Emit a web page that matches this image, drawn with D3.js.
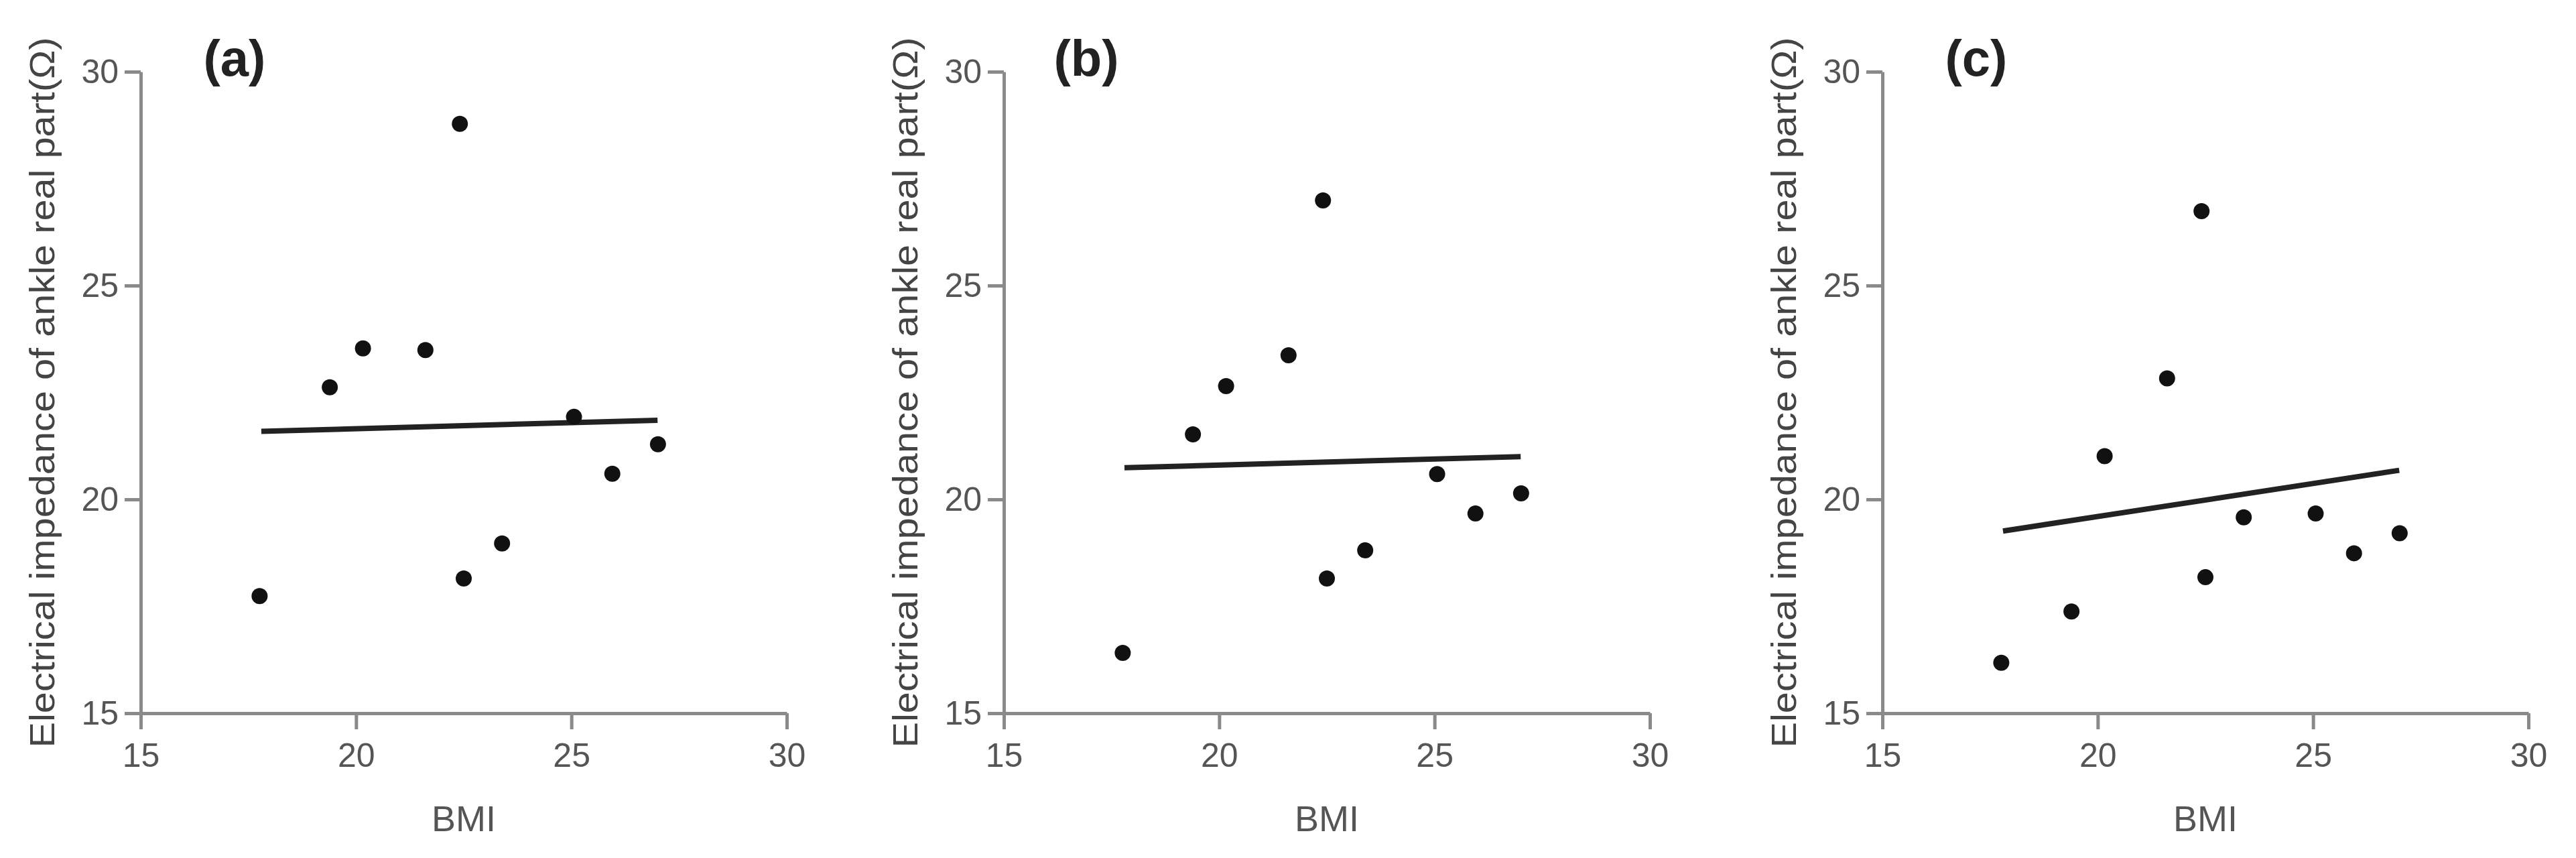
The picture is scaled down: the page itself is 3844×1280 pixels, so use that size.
<!DOCTYPE html>
<html>
<head>
<meta charset="utf-8">
<script src="https://cdn.jsdelivr.net/npm/d3@7"></script>
<style>
  html, body { margin: 0; padding: 0; background: #fff; }
  svg { display: block; }
</style>
</head>
<body>
<script>
// values
const bmi = [17.76, 19.39, 20.16, 21.61, 22.41, 22.50, 23.39, 25.06, 25.95, 27.01]
const impedanceA = [17.74, 22.62, 23.53, 23.49, 28.78, 18.15, 18.97, 21.93, 20.60, 21.29]
const impedanceB = [16.41, 21.52, 22.65, 23.37, 26.99, 18.15, 18.81, 20.59, 19.67, 20.14]
const impedanceC = [16.18, 17.38, 21.01, 22.83, 26.74, 18.18, 19.58, 19.67, 18.74, 19.21]
// fitted line, value at the first and last BMI
const fitX = [17.8, 27.0]
const fitA = [21.59, 21.85]
const fitB = [20.74, 21.00]
const fitC = [19.26, 20.68]
const panelLabels = ['(a)', '(b)', '(c)']
const ticks = [15, 20, 25, 30]
const xTitle = 'BMI'
const yTitle = 'Electrical impedance of ankle real part(\u03a9)'

const W = 3844, H = 1280
const font = "'Liberation Sans', Arial, sans-serif"

const svg = d3.select('body').append('svg')
    .attr('width', W)
    .attr('height', H)

const panels = [
    {label: panelLabels[0], y: impedanceA, fit: fitA, x0: 210, labelDx: 140},
    {label: panelLabels[1], y: impedanceB, fit: fitB, x0: 1498, labelDx: 123},
    {label: panelLabels[2], y: impedanceC, fit: fitC, x0: 2809, labelDx: 140}
]

const plotW = 964, plotTop = 107, plotBottom = 1064

panels.forEach(function(p){
    const g = svg.append('g').attr('transform', `translate(${p.x0},0)`)

    const x = d3.scaleLinear().domain([15, 30]).range([0, plotW])
    const y = d3.scaleLinear().domain([15, 30]).range([plotBottom, plotTop])

    const xAxis = g.append('g')
        .attr('transform', `translate(0,${plotBottom})`)
        .call(d3.axisBottom(x).tickValues(ticks).tickSize(24).tickSizeOuter(0).tickPadding(20))
    const yAxis = g.append('g')
        .call(d3.axisLeft(y).tickValues(ticks).tickSize(24).tickSizeOuter(0).tickPadding(9))

    ;[xAxis, yAxis].forEach(function(a){
        a.select('.domain').attr('stroke', '#8a8a8a').attr('stroke-width', 5)
        a.selectAll('.tick line').attr('stroke', '#8a8a8a').attr('stroke-width', 5)
        a.selectAll('.tick text')
            .attr('fill', '#555')
            .style('font-family', font)
            .style('font-size', '50px')
    })

    // regression line
    g.append('line')
        .attr('x1', x(fitX[0]))
        .attr('y1', y(p.fit[0]))
        .attr('x2', x(fitX[1]))
        .attr('y2', y(p.fit[1]))
        .attr('stroke', '#222')
        .attr('stroke-width', 8)

    g.selectAll('circle')
        .data(bmi.map((b, i) => ({b: b, v: p.y[i]})))
        .enter()
        .append('circle')
        .attr('cx', d => x(d.b))
        .attr('cy', d => y(d.v))
        .attr('r', 12)
        .attr('fill', '#111')

    g.append('text')
        .text(p.label)
        .attr('x', p.labelDx)
        .attr('y', 113)
        .attr('text-anchor', 'middle')
        .attr('fill', '#222')
        .style('font-family', font)
        .style('font-weight', 'bold')
        .style('font-size', '76px')

    g.append('text')
        .text(xTitle)
        .attr('x', plotW / 2)
        .attr('y', 1240)
        .attr('text-anchor', 'middle')
        .attr('fill', '#555')
        .style('font-family', font)
        .style('font-size', '54px')

    g.append('text')
        .text(yTitle)
        .attr('transform', `translate(-147,${(plotTop + plotBottom) / 2}) rotate(-90)`)
        .attr('text-anchor', 'middle')
        .attr('dominant-baseline', 'central')
        .attr('textLength', 1060)
        .attr('lengthAdjust', 'spacingAndGlyphs')
        .attr('fill', '#444')
        .style('font-family', font)
        .style('font-size', '52px')
})
</script>
</body>
</html>
